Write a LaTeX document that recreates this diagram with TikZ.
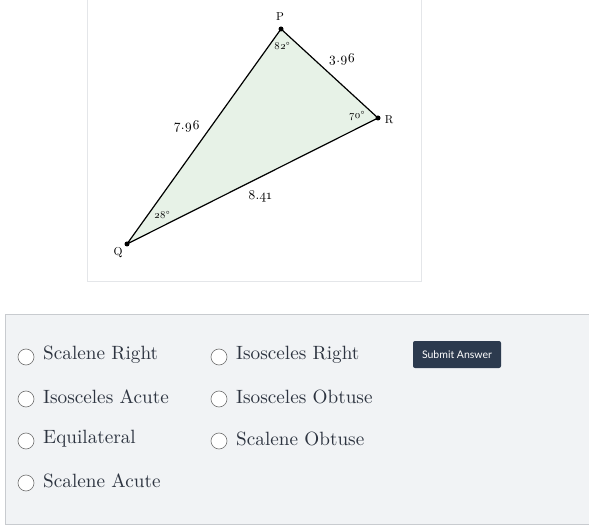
\documentclass[tikz,border=0pt]{standalone}
\usepackage{fontspec}
\newfontfamily\btnfont{Lato}
\newfontfamily\numfont[Numbers=OldStyle]{lmroman10-regular.otf}
\newfontfamily\choicefont{lmroman10-regular.otf}
\definecolor{trifill}{RGB}{231,242,231}
\definecolor{panelfill}{RGB}{241,243,245}
\definecolor{panelline}{RGB}{200,203,207}
\definecolor{boxline}{RGB}{228,230,233}
\definecolor{ink}{RGB}{45,52,64}
\definecolor{btnfill}{RGB}{44,58,78}
\tikzset{
	vlabel/.style={font=\numfont\fontsize{11.5}{13}\selectfont},
	alabel/.style={font=\numfont\fontsize{10.5}{12}\selectfont},
	slabel/.style={font=\numfont\fontsize{13.5}{15}\selectfont},
	radio/.style={circle, draw=black!55, fill=white, line width=.6pt, minimum size=16pt, inner sep=0pt},
	choice/.style={anchor=west, text=ink, inner sep=0pt, font=\choicefont\fontsize{19.2}{21}\selectfont},
	dot/.style={circle, fill=black, inner sep=0pt, minimum size=5pt}
}
\begin{document}
\begin{tikzpicture}[x=1pt, y=-1pt]
	\useasboundingbox (0,0) rectangle (589,529);
	% figure box
	\draw[boxline, line width=1pt] (87,-2) rectangle (421,282);
	\coordinate (P) at (281,29);
	\coordinate (R) at (378,118);
	\coordinate (Q) at (127,244);
	\filldraw[fill=trifill, draw=black, line width=1.2pt, line join=round] (P) -- (R) -- (Q) -- cycle;
	\node[dot] (dotP) at (P) {};
	\node[dot] (dotR) at (R) {};
	\node[dot] (dotQ) at (Q) {};
	\node[vlabel] (labP) at (280,17)  {P};
	\node[vlabel] (labR) at (389,120) {R};
	\node[vlabel] (labQ) at (118,253) {Q};
	\node[alabel] (angP) at (282,46)  {82°};
	\node[alabel] (angR) at (357,116) {70°};
	\node[alabel] (angQ) at (162,215) {28°};
	\node[slabel] (sidePQ) at (187,126) {7.96};
	\node[slabel] (sidePR) at (342,59)  {3.96};
	\node[slabel] (sideQR) at (260,196) {8.41};
	% answer panel
	\filldraw[fill=panelfill, draw=panelline, line width=1pt] (5,315) rectangle (592,524);
	\node[radio] (r1) at (26,357) {};
	\node[radio] (r2) at (26,399) {};
	\node[radio] (r3) at (26,441) {};
	\node[radio] (r4) at (26,483) {};
	\node[radio] (r5) at (219,357) {};
	\node[radio] (r6) at (219,399) {};
	\node[radio] (r7) at (219,441) {};
	\node[choice] (c1) at (43,355) {Scalene Right};
	\node[choice] (c2) at (43,397) {Isosceles Acute};
	\node[choice] (c3) at (43,439) {Equilateral};
	\node[choice] (c4) at (43,481) {Scalene Acute};
	\node[choice] (c5) at (236,355) {Isosceles Right};
	\node[choice] (c6) at (236,397) {Isosceles Obtuse};
	\node[choice] (c7) at (236,439) {Scalene Obtuse};
	\node[fill=btnfill, text=white, rounded corners=2pt, minimum width=88pt, minimum height=27pt, inner sep=0pt, font=\btnfont\fontsize{10.5}{12}\selectfont] (submit) at (457,354.5) {Submit Answer};
\end{tikzpicture}
\end{document}
